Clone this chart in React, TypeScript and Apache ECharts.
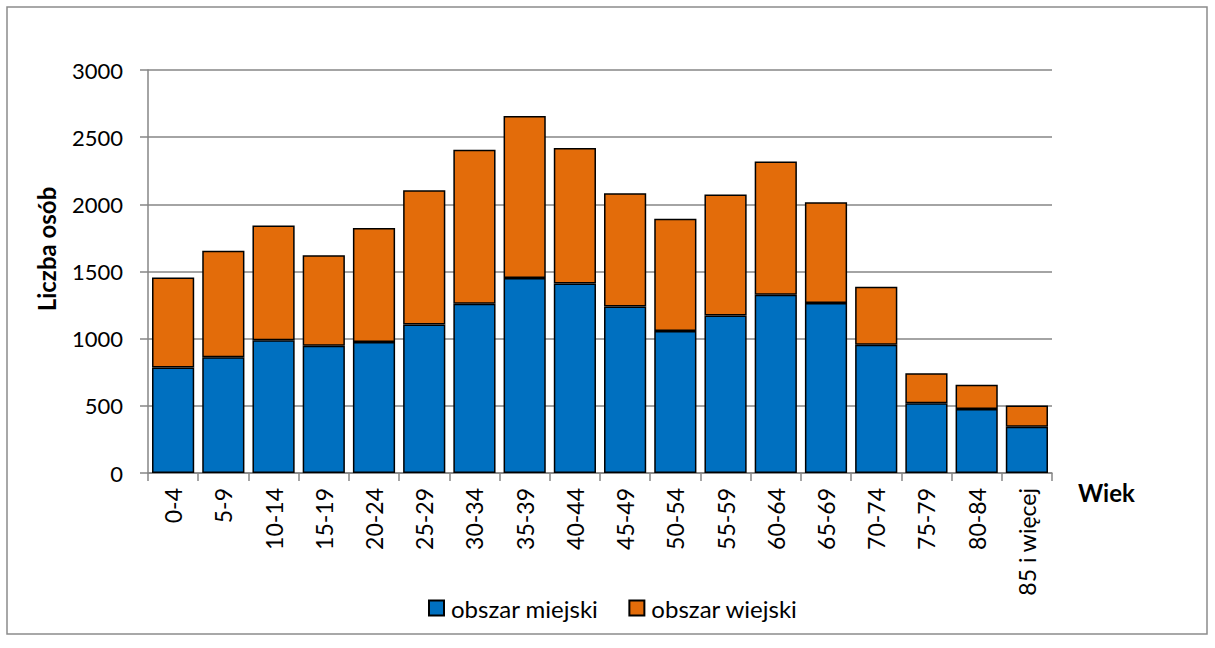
import React, { useEffect, useRef } from "react";
import * as echarts from "echarts";

const categories = ["0-4", "5-9", "10-14", "15-19", "20-24", "25-29", "30-34", "35-39", "40-44", "45-49", "50-54", "55-59", "60-64", "65-69", "70-74", "75-79", "80-84", "85 i więcej"];
const urban = [785, 862, 989, 947, 976, 1105, 1259, 1452, 1410, 1239, 1058, 1172, 1326, 1266, 954, 520, 476, 344];
const total = [1455, 1655, 1842, 1621, 1824, 2105, 2407, 2657, 2419, 2082, 1893, 2074, 2318, 2015, 1387, 743, 657, 503];
const rural = total.map((t, i) => t - urban[i]);
const yTicks = [0, 500, 1000, 1500, 2000, 2500, 3000];

const FONT = "Lato, 'Open Sans', sans-serif";

export default function App() {
  const ref = useRef<HTMLDivElement>(null);
  useEffect(() => {
    if (!ref.current) return;
    const chart = echarts.init(ref.current, undefined, { renderer: "svg" });
    chart.setOption({
      animation: false,
      backgroundColor: "#ffffff",
      textStyle: { fontFamily: FONT },
      grid: { left: 148, top: 70, right: 163, bottom: 175, containLabel: false },
      legend: {
        data: ["obszar miejski", "obszar wiejski"],
        top: 596,
        left: 428,
        padding: 0,
        itemWidth: 15,
        itemHeight: 15,
        itemGap: 30,
        icon: "rect",
        textStyle: { fontSize: 24, color: "#000", fontFamily: FONT, padding: [0, 0, 0, 2] },
      },
      xAxis: {
        type: "category",
        data: categories,
        boundaryGap: true,
        axisLine: { lineStyle: { color: "#868686", width: 1.5 } },
        axisTick: { show: true, length: 8, alignWithLabel: false, lineStyle: { color: "#868686", width: 1.5 } },
        axisLabel: { rotate: 90, fontSize: 23, color: "#000", margin: 15, interval: 0, fontFamily: FONT },
      },
      yAxis: {
        type: "value",
        min: yTicks[0],
        max: yTicks[yTicks.length - 1],
        interval: 500,
        axisLine: { show: true, lineStyle: { color: "#868686", width: 1.5 } },
        axisTick: { show: true, length: 8, lineStyle: { color: "#868686", width: 1.5 } },
        splitLine: { lineStyle: { color: "#868686", width: 1.5 } },
        axisLabel: { fontSize: 22, color: "#000", margin: 25, fontFamily: FONT, formatter: (v: number) => String(v) },
      },
      series: [
        {
          name: "obszar miejski",
          type: "bar",
          stack: "a",
          data: urban,
          barCategoryGap: "16%",
          itemStyle: { color: "#0070C0", borderColor: "#000", borderWidth: 1.5 },
        },
        {
          name: "obszar wiejski",
          type: "bar",
          stack: "a",
          data: rural,
          barCategoryGap: "16%",
          itemStyle: { color: "#E36C0A", borderColor: "#000", borderWidth: 1.5 },
        },
      ],
      graphic: [
        {
          type: "rect",
          shape: { x: 7, y: 7, width: 1200, height: 627 },
          style: { fill: "none", stroke: "#8c8c8c", lineWidth: 1.5 },
          silent: true,
        },
        {
          type: "text",
          x: 46,
          y: 249,
          rotation: Math.PI / 2,
          style: {
            text: "Liczba osób",
            fontSize: 24,
            fontWeight: "bold",
            fill: "#000",
            fontFamily: FONT,
            align: "center",
            verticalAlign: "middle",
          },
        },
        {
          type: "text",
          x: 1078,
          y: 492,
          style: {
            text: "Wiek",
            fontSize: 24,
            fontWeight: "bold",
            fill: "#000",
            fontFamily: FONT,
            align: "left",
            verticalAlign: "middle",
          },
        },
      ],
    });
    return () => chart.dispose();
  }, []);
  return (
    <div
      ref={ref}
      style={{ position: "fixed", left: 0, top: 0, width: 1215, height: 648 }}
    />
  );
}
